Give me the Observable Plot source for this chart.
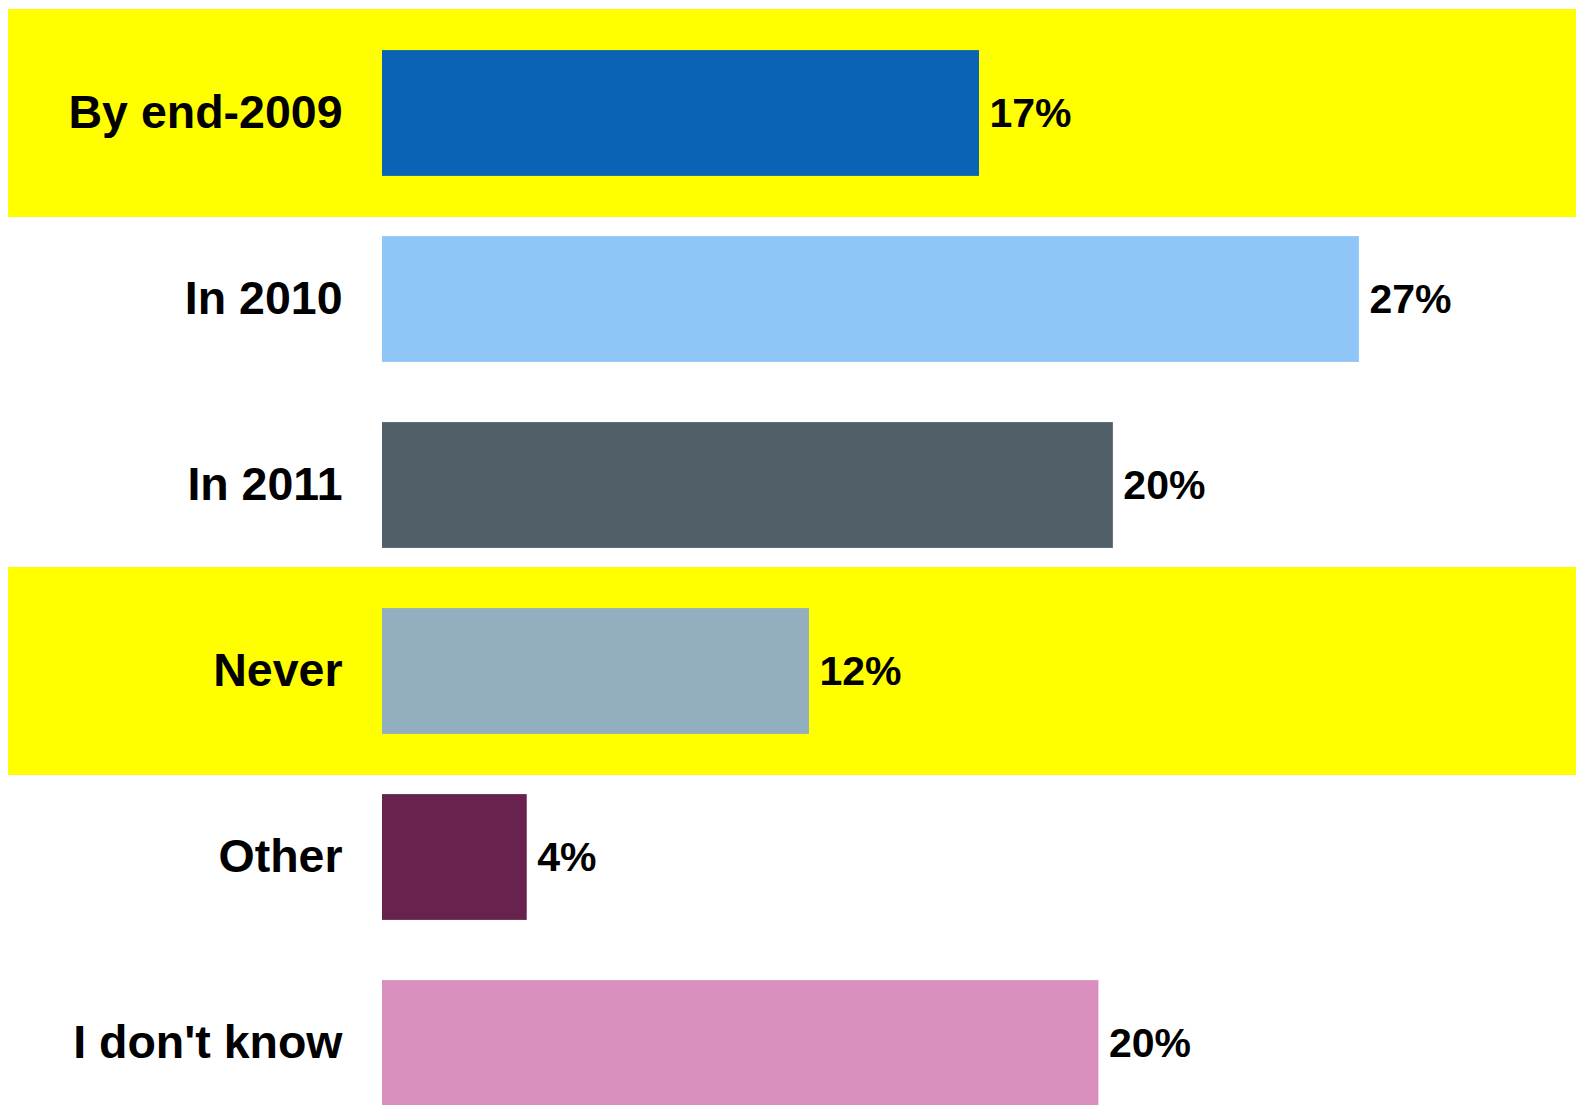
<!DOCTYPE html>
<html><head><meta charset="utf-8">
<script src="https://cdn.jsdelivr.net/npm/d3@7"></script>
<script src="https://cdn.jsdelivr.net/npm/@observablehq/plot@0.6"></script>
<style>html,body{margin:0;padding:0;background:#fff;} svg{display:block}</style>
</head><body><div id="chart"></div>
<script>
const categories = ["By end-2009", "In 2010", "In 2011", "Never", "Other", "I don't know"];
const values = [16.5, 27.0, 20.2, 11.8, 4.0, 19.8];
const valueLabels = ["17%", "27%", "20%", "12%", "4%", "20%"];
const highlighted = ["By end-2009", "Never"];
const barColors = ["#0b63b5", "#90c5f8", "#516068", "#92aebf", "#67224e", "#d990be"];

const data = categories.map((c, i) => ({category: c, value: values[i], label: valueLabels[i]}));

const chart = Plot.plot({
  width: 1576,
  height: 1105,
  marginLeft: 382,
  marginRight: 0,
  marginTop: 0,
  marginBottom: 0,
  style: {background: "#fff", fontFamily: "'Liberation Sans', Arial, sans-serif", color: "#000"},
  x: {domain: [0, 33], axis: null},
  y: {domain: categories, range: [16.9, 1138.5], padding: 0, axis: null},
  color: {domain: categories, range: barColors},
  marks: [
    Plot.cell(highlighted, {y: d => d, fill: "#ffff00", insetTop: -11, insetBottom: -11, insetLeft: -374, insetRight: 0}),
    Plot.barX(data, {y: "category", x: "value", fill: "category", insetTop: 30.1, insetBottom: 30.1}),
    Plot.text(data, {y: "category", x: 0, text: "category", textAnchor: "end", dx: -40, fontSize: 46.5, fontWeight: "bold", fill: "#000"}),
    Plot.text(data, {y: "category", x: "value", text: "label", textAnchor: "start", dx: 10, fontSize: 41, fontWeight: "bold", fill: "#000"})
  ]
});
document.getElementById("chart").appendChild(chart);
</script>
</body></html>
